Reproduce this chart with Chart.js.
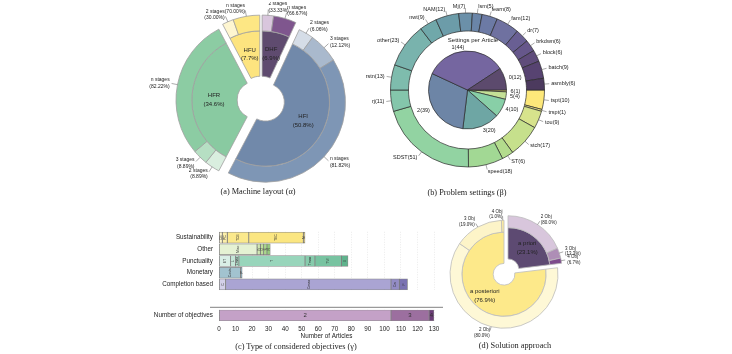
<!DOCTYPE html>
<html>
<head>
<meta charset="utf-8">
<script src="https://cdn.jsdelivr.net/npm/chart.js@4.4.0/dist/chart.umd.min.js"></script>
<style>
  body { margin: 0; background: #fff; width: 732px; height: 354px; position: relative; overflow: hidden; }
  canvas { position: absolute; }
  .cap { position: absolute; width: 200px; text-align: center; font-family: "Liberation Serif", "DejaVu Serif", serif; font-size: 8.3px; line-height: 1; color: #222; white-space: nowrap; filter: grayscale(1); }
</style>
</head>
<body>
<canvas id="layout" width="260" height="196" style="left:131px;top:2px"></canvas>
<canvas id="settings" width="221" height="180" style="left:357px;top:0px"></canvas>
<canvas id="objTop" width="300" height="78" style="left:150px;top:222px"></canvas>
<canvas id="objBottom" width="300" height="41" style="left:150px;top:300px"></canvas>
<canvas id="approach" width="160" height="140" style="left:426px;top:202px"></canvas>
<div class="cap" style="left:158px;top:188px">(a) Machine layout (α)</div>
<div class="cap" style="left:367px;top:189px">(b) Problem settings (β)</div>
<div class="cap" style="left:196px;top:343px">(c) Type of considered objectives (γ)</div>
<div class="cap" style="left:415px;top:342px">(d) Solution approach</div>
<script>
// (a) machine layout, clockwise from the top
const layoutGroups = ["DHF", "HFI", "HFR", "HFU"];
const layoutGroupCounts = [9, 66, 45, 10];
const layoutStageLabels = ["2 stages", "n stages", "2 stages", "3 stages", "n stages", "2 stages", "3 stages", "n stages", "2 stages", "n stages"];
const layoutStageCounts = [3, 6, 4, 8, 54, 4, 4, 37, 3, 7];
const layoutStageGroup = [0, 0, 1, 1, 1, 2, 2, 2, 3, 3];

// (b) problem settings, clockwise from 3 o'clock
const settingsNames = ["6", "5", "4", "3", "2", "1", "0"];
const settingsCounts = [1, 4, 10, 20, 39, 44, 12];
const problemNames = ["tspt", "trspt", "tou", "stch", "ST", "speed", "SDST", "rj", "rstn", "other", "nwt", "NAM", "Mj", "lsm", "learn", "fam", "dr", "brkdwn", "block", "batch", "asmbly"];
const problemCounts = [10, 1, 9, 17, 6, 18, 51, 11, 13, 23, 9, 12, 7, 5, 8, 12, 7, 6, 6, 9, 6];

// (c) objectives
const objCategories = ["Sustainability", "Other", "Punctuality", "Monetary", "Completion based"];
const sustainabilityValues = [2, 3, 13, 33, 1];
const sustainabilityLabels = ["CE", "PC", "TCE", "TEC", "N"];
const otherValues = [23, 2, 2, 2, 2];
const otherLabels = ["Misc", "W", "Q", "S", "R"];
const punctualityValues = [7, 3, 2, 40, 6, 16, 4];
const punctualityLabels = ["ET", "L", "Lmax", "T", "Tmax", "TW", "U"];
const monetaryValues = [13, 1];
const monetaryLabels = ["Costs", "P"];
const completionValues = [4, 100, 5, 5];
const completionLabels = ["C", "Cmax", "Cw", "F"];
const objectiveCountLabels = ["2", "3", "4"];
const objectiveCountValues = [104, 23, 3];

// (d) solution approach, clockwise from the top
const approachNames = ["a priori", "a posteriori"];
const approachCounts = [30, 100];
const approachObjLabels = ["2 Obj", "3 Obj", "4 Obj", "2 Obj", "3 Obj", "4 Obj"];
const approachObjCounts = [24, 4, 2, 80, 19, 1];
const approachObjGroup = [0, 0, 0, 1, 1, 1];

const FONT = '"Liberation Sans", Arial, sans-serif';
Chart.defaults.font.family = FONT;
Chart.defaults.color = "#333";

const baseOpts = {
  responsive: false,
  animation: false,
  events: [],
  plugins: { legend: { display: false }, tooltip: { enabled: false } },
};

// shift each wedge and its outer ring pieces away from the centre
const explodePlugin = {
  id: "explode",
  afterDatasetsUpdate(chart, args, opts) {
    if (!opts.distance) return;
    const inner = chart.getDatasetMeta(1).data;
    const outer = chart.getDatasetMeta(0).data;
    const shifts = inner.map((el) => {
      const mid = (el.startAngle + el.endAngle) / 2;
      return [Math.cos(mid) * opts.distance, Math.sin(mid) * opts.distance];
    });
    inner.forEach((el, i) => { el.x += shifts[i][0]; el.y += shifts[i][1]; });
    outer.forEach((el, i) => {
      const s = shifts[opts.groups[i]];
      el.x += s[0]; el.y += s[1];
    });
  },
};

function arcLabels(chart, datasetIndex, texts, o) {
  const ctx = chart.ctx;
  const meta = chart.getDatasetMeta(datasetIndex);
  ctx.save();
  ctx.font = o.size + "px " + FONT;
  ctx.fillStyle = "#222";
  ctx.strokeStyle = "#555";
  ctx.lineWidth = 0.5;
  ctx.textBaseline = "middle";
  meta.data.forEach((el, i) => {
    const mid = (el.startAngle + el.endAngle) / 2;
    const c = Math.cos(mid), s = Math.sin(mid);
    const x = el.x + c * o.r, y = el.y + s * o.r;
    if (o.inside) {
      ctx.textAlign = "center";
    } else {
      ctx.textAlign = c < 0 ? "right" : "left";
      if (o.leader) {
        ctx.beginPath();
        ctx.moveTo(el.x + c * el.outerRadius, el.y + s * el.outerRadius);
        ctx.lineTo(el.x + c * (o.r - 2), el.y + s * (o.r - 2));
        ctx.stroke();
      }
    }
    const lines = texts[i];
    const lh = o.size * o.lh;
    lines.forEach((t, k) => ctx.fillText(t, x, y + (k - (lines.length - 1) / 2) * lh));
  });
  ctx.restore();
}

function pct(v, total, d) {
  return (v / total * 100).toFixed(d) + "%";
}

// ---------- (a) ----------
const layoutTotal = layoutGroupCounts.reduce((a, b) => a + b, 0);
new Chart(document.getElementById("layout"), {
  type: "doughnut",
  data: {
    labels: layoutStageLabels,
    datasets: [
      {
        data: layoutStageCounts,
        weight: 15,
        backgroundColor: ["#d9c6dd", "#7f568e", "#d5dde7", "#a9b9cd", "#7e96b5", "#d9eedf", "#b6dfc3", "#8ccca3", "#fef6d1", "#fde784"],
        borderColor: "#a0a0a0",
        borderWidth: 0.8,
      },
      {
        data: layoutGroupCounts,
        weight: 43,
        backgroundColor: ["#5f4b6f", "#7189aa", "#89caa1", "#fde47f"],
        borderColor: "#a0a0a0",
        borderWidth: 0.8,
      },
    ],
  },
  options: {
    ...baseOpts,
    radius: 80,
    cutout: 23,
    plugins: { ...baseOpts.plugins, explode: { distance: 5, groups: layoutStageGroup } },
  },
  plugins: [
    explodePlugin,
    {
      id: "layoutLabels",
      afterDatasetsDraw(chart) {
        const inner = layoutGroups.map((g, i) => [g, "(" + pct(layoutGroupCounts[i], layoutTotal, 1) + ")"]);
        arcLabels(chart, 1, inner, { r: 42, size: 6, lh: 1.45, inside: true });
        const outer = layoutStageLabels.map((l, i) => {
          const g = layoutStageGroup[i];
          return [l, "(" + pct(layoutStageCounts[i], layoutGroupCounts[g], 2) + ")"];
        });
        arcLabels(chart, 0, outer, { r: 88, size: 5, lh: 1.3, leader: true });
      },
    },
  ],
});

// ---------- (b) ----------
new Chart(document.getElementById("settings"), {
  type: "doughnut",
  data: {
    labels: problemNames,
    datasets: [
      {
        data: problemCounts,
        weight: 18,
        backgroundColor: ["#fde87a", "#eae58c", "#d7e38c", "#c6e08c", "#b3dc8d", "#a2d894", "#92d3a2", "#84c6ab", "#7ebcad", "#79b3ad", "#70a8aa", "#6c9ca9", "#6b90a9", "#6a85a8", "#6c7aa5", "#6f71a0", "#695f93", "#66578b", "#5f4c7b", "#574371", "#4c3a5e"],
        borderColor: "#2a2a2a",
        borderWidth: 0.7,
      },
      {
        data: [1],
        weight: 20,
        backgroundColor: "rgba(0,0,0,0)",
        borderWidth: 0,
      },
      {
        data: settingsCounts,
        weight: 39,
        backgroundColor: ["#f3e27c", "#c4e096", "#88cfa7", "#6ea6a4", "#6d85a6", "#7566a0", "#5c4a6d"],
        borderColor: "#2a2a2a",
        borderWidth: 0.7,
      },
    ],
  },
  options: { ...baseOpts, radius: 77, cutout: 0, rotation: 90 },
  plugins: [
    {
      id: "settingsLabels",
      afterDatasetsDraw(chart) {
        arcLabels(chart, 0, problemNames.map((n, i) => [n + "(" + problemCounts[i] + ")"]), { r: 84, size: 5.5, lh: 1.2, leader: true });
        arcLabels(chart, 2, settingsNames.map((n, i) => [n + "(" + settingsCounts[i] + ")"]), { r: 43, size: 5.5, lh: 1.2 });
        const ctx = chart.ctx;
        const el = chart.getDatasetMeta(2).data[0];
        ctx.save();
        ctx.font = "6px " + FONT;
        ctx.fillStyle = "#222";
        ctx.textAlign = "center";
        ctx.textBaseline = "middle";
        ctx.fillText("Settings per Article", el.x + 5.5, el.y - 49.5);
        ctx.restore();
      },
    },
  ],
});

// ---------- (c) ----------
const objRows = [
  { values: sustainabilityValues, labels: sustainabilityLabels, colors: ["#fdf5c6", "#fcefa8", "#fbe98c", "#fbe681", "#c9b14e"] },
  { values: otherValues, labels: otherLabels, colors: ["#e5f2d3", "#d0e8b0", "#bfe09c", "#aad88b", "#95cd7b"] },
  { values: punctualityValues, labels: punctualityLabels, colors: ["#d9efe6", "#c4e7d8", "#b1dfcb", "#98d5bb", "#86cbac", "#78c3a1", "#5fb38d"] },
  { values: monetaryValues, labels: monetaryLabels, colors: ["#a2c3cf", "#6e95a6"] },
  { values: completionValues, labels: completionLabels, colors: ["#d4d0e9", "#aaa4d3", "#938cc5", "#7a72b2"] },
];

const topDatasets = [];
objRows.forEach((row, r) => {
  row.values.forEach((v, j) => {
    topDatasets.push({
      data: objCategories.map((_, k) => (k === r ? v : null)),
      backgroundColor: row.colors[j],
      borderColor: "rgba(90,90,90,0.7)",
      borderWidth: 0.8,
      borderSkipped: false,
      barThickness: 11,
      segLabel: row.labels[j],
    });
  });
});

const barTextPlugin = {
  id: "barText",
  afterDatasetsDraw(chart, args, opts) {
    const ctx = chart.ctx;
    chart.data.datasets.forEach((ds, di) => {
      const meta = chart.getDatasetMeta(di);
      meta.data.forEach((el, i) => {
        if (ds.data[i] == null) return;
        ctx.save();
        ctx.translate((el.x + el.base) / 2, el.y);
        if (opts.vertical) ctx.rotate(-Math.PI / 2);
        ctx.font = opts.size + "px " + FONT;
        ctx.fillStyle = "#333";
        ctx.textAlign = "center";
        ctx.textBaseline = "middle";
        ctx.fillText(ds.segLabel, 0, 0.3);
        ctx.restore();
      });
    });
  },
};

const xGrid = { color: "#e2e2e2", lineWidth: 0.7, drawTicks: false };
const yAxis = {
  stacked: true,
  grid: { display: false, drawTicks: false },
  border: { display: false },
  ticks: { font: { size: 6.3 }, color: "#222", padding: 6 },
  afterFit(s) { s.width = 69; },
};

new Chart(document.getElementById("objTop"), {
  type: "bar",
  data: { labels: objCategories, datasets: topDatasets },
  options: {
    ...baseOpts,
    indexAxis: "y",
    layout: { padding: { top: 1, bottom: 1.4, left: 0, right: 16 } },
    plugins: { ...baseOpts.plugins, barText: { vertical: true, size: 3.5 } },
    scales: {
      x: {
        stacked: true, min: 0, max: 130,
        ticks: { display: false, stepSize: 10 },
        grid: xGrid,
        border: { display: false, dash: [1, 1.5] },
        afterFit(s) { s.height = 0; },
      },
      y: yAxis,
    },
  },
  plugins: [barTextPlugin],
});

new Chart(document.getElementById("objBottom"), {
  type: "bar",
  data: {
    labels: ["Number of objectives"],
    datasets: objectiveCountValues.map((v, j) => ({
      data: [v],
      backgroundColor: ["#c4a1c7", "#9c6f9f", "#6d3d79"][j],
      borderColor: "rgba(90,90,90,0.7)",
      borderWidth: 0.8,
      borderSkipped: false,
      barThickness: 11,
      segLabel: objectiveCountLabels[j],
    })),
  },
  options: {
    ...baseOpts,
    indexAxis: "y",
    layout: { padding: { top: 5.8, bottom: 0, left: 0, right: 16 } },
    plugins: { ...baseOpts.plugins, barText: { vertical: false, size: 6 } },
    scales: {
      x: {
        stacked: true, min: 0, max: 130,
        ticks: { stepSize: 10, font: { size: 6.3 }, color: "#222", padding: 4, maxRotation: 0 },
        grid: xGrid,
        border: { display: false, dash: [1, 1.5] },
        title: { display: true, text: "Number of Articles", font: { size: 6.3 }, color: "#222", padding: { top: 1, bottom: 1 } },
        afterFit(s) { s.height = 20; },
      },
      y: yAxis,
    },
  },
  plugins: [
    barTextPlugin,
    {
      id: "separator",
      afterDraw(chart) {
        const ctx = chart.ctx;
        ctx.save();
        ctx.strokeStyle = "#9a9a9a";
        ctx.lineWidth = 1.2;
        ctx.beginPath();
        ctx.moveTo(60, chart.chartArea.top - 2.5);
        ctx.lineTo(293, chart.chartArea.top - 2.5);
        ctx.stroke();
        ctx.restore();
      },
    },
  ],
});

// ---------- (d) ----------
const approachTotal = approachCounts.reduce((a, b) => a + b, 0);
new Chart(document.getElementById("approach"), {
  type: "doughnut",
  data: {
    labels: approachObjLabels,
    datasets: [
      {
        data: approachObjCounts,
        weight: 11,
        backgroundColor: ["#d8c6dc", "#ae8eb6", "#7d4a8c", "#fef8d6", "#fdf4c8", "#fbeaa2"],
        borderColor: "#bdbdbd",
        borderWidth: 0.8,
      },
      {
        data: approachCounts,
        weight: 29,
        backgroundColor: ["#5d4a72", "#fde98a"],
        borderColor: "#bdbdbd",
        borderWidth: 0.8,
      },
    ],
  },
  options: {
    ...baseOpts,
    radius: 54,
    cutout: 14,
    plugins: { ...baseOpts.plugins, explode: { distance: 3, groups: approachObjGroup } },
  },
  plugins: [
    explodePlugin,
    {
      id: "approachLabels",
      afterDatasetsDraw(chart) {
        const inner = approachNames.map((n, i) => [n, "(" + pct(approachCounts[i], approachTotal, 1) + ")"]);
        arcLabels(chart, 1, inner, { r: 29, size: 6, lh: 1.45, inside: true });
        const outer = approachObjLabels.map((l, i) => {
          const g = approachObjGroup[i];
          return [l, "(" + pct(approachObjCounts[i], approachCounts[g], 1) + ")"];
        });
        arcLabels(chart, 0, outer, { r: 60, size: 4.5, lh: 1.3, leader: true });
      },
    },
  ],
});
</script>
</body>
</html>
